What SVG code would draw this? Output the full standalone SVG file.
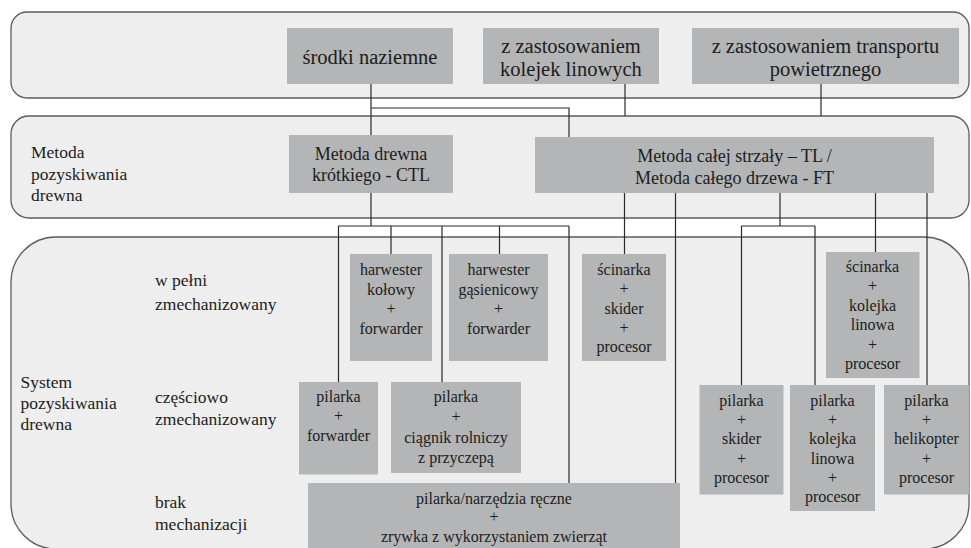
<svg xmlns="http://www.w3.org/2000/svg" width="971" height="548" viewBox="0 0 971 548">
<style>
.band{fill:#eeeeee;stroke:#5c5c5c;stroke-width:1.3}
.box{fill:#b3b5b6}
text{font-family:'Liberation Serif','Times New Roman',serif;fill:#1c1c1c}
.m{text-anchor:middle}
.f20{font-size:20.5px}
.f18{font-size:18px}
.f16{font-size:16px}
.lab{font-size:17.5px}
.c{stroke:#2a2a2a;stroke-width:1.2;fill:none}
</style>
<rect width="971" height="548" fill="#ffffff"/>
<g id="bands">
<rect id="band-top" class="band" x="11" y="12" width="958" height="86" rx="16"/>
<rect id="band-metoda" class="band" x="11" y="116" width="958" height="102" rx="18"/>
<rect id="band-system" class="band" x="11" y="237" width="958" height="312" rx="45"/>
</g>
<g id="labels" class="lab">
<text x="31" y="158">Metoda</text>
<text x="31" y="180">pozyskiwania</text>
<text x="31" y="201">drewna</text>
<text x="155" y="286">w pełni</text>
<text x="155" y="310">zmechanizowany</text>
<text x="20.5" y="388">System</text>
<text x="20.5" y="409">pozyskiwania</text>
<text x="20.5" y="430">drewna</text>
<text x="155" y="403">częściowo</text>
<text x="155" y="425">zmechanizowany</text>
<text x="155" y="508">brak</text>
<text x="155" y="530">mechanizacji</text>
</g>
<g id="connectors" class="c">
<path d="M371 84V135M371 108H569V137"/>
<path d="M625 84V116"/>
<path d="M821 84V116"/>
<path d="M371 193V226M338.5 226H569M338.5 226V382M391 226V254M442 226V382M499.5 226V254M569 226V483"/>
<path d="M624.5 193V254"/>
<path d="M675.5 193V483"/>
<path d="M780 193V226M741.5 226H815M741.5 226V385M815 226V385"/>
<path d="M875.5 193V252"/>
<path d="M927 193V385"/>
</g>
<g id="n-srodki">
<rect class="box" x="287" y="28" width="166" height="56"/>
<text class="m f20" x="370" y="64">środki naziemne</text>
</g>
<g id="n-kolejki">
<rect class="box" x="483" y="28" width="176" height="56"/>
<text class="m f20" x="571" y="53">z zastosowaniem</text>
<text class="m f20" x="571" y="75.5">kolejek linowych</text>
</g>
<g id="n-powietrzny">
<rect class="box" x="692" y="28" width="267" height="56"/>
<text class="m f20" x="825.5" y="53">z zastosowaniem transportu</text>
<text class="m f20" x="825.5" y="75.5">powietrznego</text>
</g>
<g id="n-ctl">
<rect class="box" x="289" y="135" width="164" height="58"/>
<text class="m f18" x="371" y="160">Metoda drewna</text>
<text class="m f18" x="371" y="181">krótkiego - CTL</text>
</g>
<g id="n-tl">
<rect class="box" x="535" y="137" width="399" height="56"/>
<text class="m f18" x="734.5" y="162">Metoda całej strzały – TL /</text>
<text class="m f18" x="734.5" y="183.5">Metoda całego drzewa - FT</text>
</g>
<g id="n-harw-kolowy">
<rect class="box" x="350" y="254" width="82" height="107"/>
<text class="m f16" x="391" y="275">harwester</text>
<text class="m f16" x="391" y="294.5">kołowy</text>
<text class="m f16" x="391" y="314">+</text>
<text class="m f16" x="391" y="333.5">forwarder</text>
</g>
<g id="n-harw-gasienicowy">
<rect class="box" x="449" y="254" width="99" height="107"/>
<text class="m f16" x="498.5" y="275">harwester</text>
<text class="m f16" x="498.5" y="294.5">gąsienicowy</text>
<text class="m f16" x="498.5" y="314">+</text>
<text class="m f16" x="498.5" y="333.5">forwarder</text>
</g>
<g id="n-scinarka-skider">
<rect class="box" x="582" y="254" width="84" height="107"/>
<text class="m f16" x="624" y="275">ścinarka</text>
<text class="m f16" x="624" y="294.3">+</text>
<text class="m f16" x="624" y="313.6">skider</text>
<text class="m f16" x="624" y="332.9">+</text>
<text class="m f16" x="624" y="352.2">procesor</text>
</g>
<g id="n-scinarka-kolejka">
<rect class="box" x="826" y="252" width="93.5" height="126"/>
<text class="m f16" x="872.5" y="271.5">ścinarka</text>
<text class="m f16" x="872.5" y="291">+</text>
<text class="m f16" x="872.5" y="310.5">kolejka</text>
<text class="m f16" x="872.5" y="330">linowa</text>
<text class="m f16" x="872.5" y="349.5">+</text>
<text class="m f16" x="872.5" y="369">procesor</text>
</g>
<g id="n-pilarka-forwarder">
<rect class="box" x="299" y="382" width="79" height="92.5"/>
<text class="m f16" x="338.5" y="402">pilarka</text>
<text class="m f16" x="338.5" y="421">+</text>
<text class="m f16" x="338.5" y="440.5">forwarder</text>
</g>
<g id="n-pilarka-ciagnik">
<rect class="box" x="391" y="382" width="130" height="91"/>
<text class="m f16" x="456" y="402">pilarka</text>
<text class="m f16" x="456" y="421.5">+</text>
<text class="m f16" x="456" y="443">ciągnik rolniczy</text>
<text class="m f16" x="456" y="463">z przyczepą</text>
</g>
<g id="n-pilarka-skider">
<rect class="box" x="699.5" y="385" width="84" height="109.5"/>
<text class="m f16" x="741.5" y="405.7">pilarka</text>
<text class="m f16" x="741.5" y="425">+</text>
<text class="m f16" x="741.5" y="444.3">skider</text>
<text class="m f16" x="741.5" y="463.6">+</text>
<text class="m f16" x="741.5" y="483">procesor</text>
</g>
<g id="n-pilarka-kolejka">
<rect class="box" x="790" y="385" width="85" height="126"/>
<text class="m f16" x="832.5" y="405.7">pilarka</text>
<text class="m f16" x="832.5" y="425">+</text>
<text class="m f16" x="832.5" y="444.3">kolejka</text>
<text class="m f16" x="832.5" y="463.6">linowa</text>
<text class="m f16" x="832.5" y="483">+</text>
<text class="m f16" x="832.5" y="502.3">procesor</text>
</g>
<g id="n-pilarka-helikopter">
<rect class="box" x="884" y="385" width="85" height="109.5"/>
<text class="m f16" x="926.5" y="405.7">pilarka</text>
<text class="m f16" x="926.5" y="425">+</text>
<text class="m f16" x="926.5" y="444.3">helikopter</text>
<text class="m f16" x="926.5" y="463.6">+</text>
<text class="m f16" x="926.5" y="483">procesor</text>
</g>
<g id="n-brak">
<rect class="box" x="308" y="483" width="372" height="70"/>
<text class="m f16" x="494" y="503.5">pilarka/narzędzia ręczne</text>
<text class="m f16" x="494" y="522">+</text>
<text class="m f16" x="494" y="541.5">zrywka z wykorzystaniem zwierząt</text>
</g>
</svg>
